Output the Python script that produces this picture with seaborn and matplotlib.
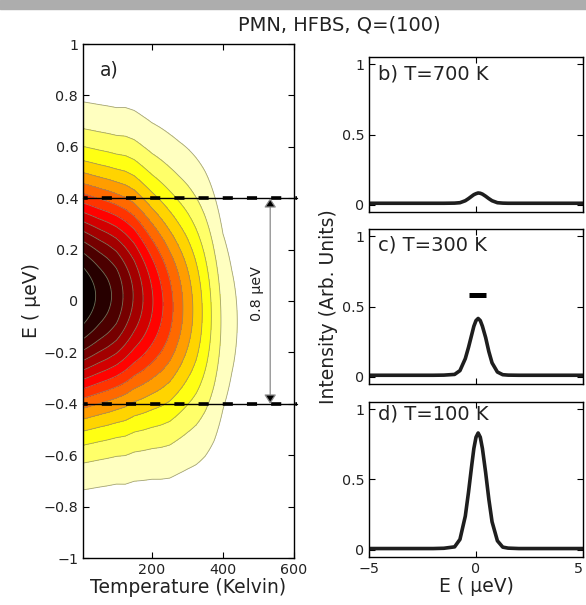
import numpy as np
import matplotlib
matplotlib.use("Agg")
import matplotlib.pyplot as plt
import seaborn as sns
from matplotlib.ticker import FuncFormatter
from matplotlib.patches import Rectangle

# ---------------- data ----------------
# panel a: intensity map parameters read per temperature
temps = [0, 25, 50, 75, 100, 125, 150, 175, 200, 225, 250, 275, 300,
         325, 350, 375, 400, 425, 450, 475, 500, 525, 550, 575, 600]
amplitude = [1.00, 0.96, 0.92, 0.885, 0.845, 0.785, 0.727, 0.667, 0.607, 0.548,
             0.49, 0.43, 0.37, 0.31, 0.245, 0.18, 0.12, 0.085, 0.055, 0.04,
             0.03, 0.025, 0.02, 0.015, 0.01]
width = [0.325, 0.325, 0.325, 0.325, 0.325, 0.33, 0.33, 0.33, 0.33, 0.333,
         0.335, 0.335, 0.337, 0.34, 0.343, 0.34, 0.315, 0.285, 0.26, 0.22,
         0.2, 0.2, 0.2, 0.2, 0.2]
center = [0.02, 0.02, 0.02, 0.02, 0.02, 0.02, 0.02, 0.01, 0.0, -0.01,
          -0.02, -0.025, -0.03, -0.04, -0.05, -0.065, -0.08, -0.08, -0.08, -0.08,
          -0.08, -0.08, -0.08, -0.08, -0.08]
window = [-0.4, 0.4]

# panels b-d: intensity vs energy
energy = [-5, -4, -3, -2, -1.5, -1, -0.75, -0.5, -0.35, -0.2, -0.1, 0, 0.1,
          0.2, 0.3, 0.45, 0.6, 0.75, 1.0, 1.25, 1.5, 2, 3, 4, 5]
int_700 = [0.012, 0.012, 0.012, 0.012, 0.012, 0.013, 0.016, 0.03, 0.045, 0.062,
           0.073, 0.08, 0.085, 0.083, 0.077, 0.062, 0.045, 0.03, 0.016, 0.013,
           0.012, 0.012, 0.012, 0.012, 0.012]
int_300 = [0.012, 0.012, 0.012, 0.012, 0.013, 0.018, 0.045, 0.13, 0.21, 0.30,
           0.36, 0.40, 0.415, 0.40, 0.36, 0.28, 0.18, 0.10, 0.035, 0.016,
           0.013, 0.012, 0.012, 0.012, 0.012]
int_100 = [0.01, 0.01, 0.01, 0.01, 0.012, 0.022, 0.075, 0.24, 0.41, 0.60,
           0.72, 0.80, 0.83, 0.80, 0.72, 0.55, 0.36, 0.20, 0.065, 0.02,
           0.013, 0.01, 0.01, 0.01, 0.01]
res_E = [-0.35, 0.45]
res_I = [0.58, 0.58]

# ---------------- style ----------------
sns.set_style("ticks")
plt.rcParams["font.family"] = ["DejaVu Sans"]
plt.rcParams["axes.linewidth"] = 1.0
plt.rcParams["xtick.direction"] = "in"
plt.rcParams["ytick.direction"] = "in"

W, H = 586, 605
fig = plt.figure(figsize=(W / 100, H / 100), dpi=100)

def rect(x0, y0, x1, y1):
    return [x0 / W, 1 - y1 / H, (x1 - x0) / W, (y1 - y0) / H]

fig.patches.append(Rectangle((0, 1 - 9 / H), 1, 9 / H, transform=fig.transFigure,
                             color="#adadad", zorder=0))
fig.text(339 / W, 1 - 25 / H, "PMN, HFBS, Q=(100)", ha="center", va="center",
         fontsize=14, color="#222222")

def minus(v, p):
    v = round(v, 6)
    if v == 0:
        v = 0.0
    return ("%g" % v).replace("-", "\u2212")

def style_ticks(ax):
    ax.tick_params(which="both", direction="in", top=True, right=True,
                   length=4, width=0.8, labelsize=10.3, colors="black",
                   labelcolor="#222222")
    for s in ax.spines.values():
        s.set_color("black")
        s.set_linewidth(1.0)

# ---------------- panel a ----------------
axa = fig.add_axes(rect(83, 44, 294, 558))
Tg = np.array(temps, dtype=float)
Eg = np.linspace(-1, 1, 401)
Z = (np.array(amplitude)[None, :] *
     np.exp(-(Eg[:, None] - np.array(center)[None, :]) ** 2 /
            (2 * np.array(width)[None, :] ** 2)))
levels = np.linspace(1 / 15, 1.0001, 15)
pos = 0.935 * np.linspace(1, 0, len(levels) - 1) ** 1.2
band_colors = [plt.cm.hot(v) for v in pos]
axa.contourf(Tg, Eg, Z, levels=levels, colors=band_colors, zorder=1)
axa.contour(Tg, Eg, Z, levels=levels[:-1], colors="#8c8c6e", linewidths=0.6,
            alpha=0.8, zorder=2)
for yv in window:
    axa.axhline(yv, xmin=0, xmax=1.014, color="black", lw=1.0, clip_on=False, zorder=4)
    axa.axhline(yv, xmin=0, xmax=1.014, color="black", lw=2.6,
                ls=(1.5, (2.8, 3.9)), clip_on=False, zorder=4)
axa.annotate("", xy=(533, window[1]), xytext=(533, window[0]),
             arrowprops=dict(arrowstyle="<|-|>,head_length=0.55,head_width=0.36",
                             fc="black", ec="#8a8a8a", lw=0.9, shrinkA=0, shrinkB=0,
                             mutation_scale=10), zorder=5)
axa.text(497, 0.03, "0.8 \u00b5eV", rotation=90, ha="center", va="center",
         fontsize=10.3, color="#222222")
axa.text(54, 0.9, "a)", ha="left", va="center", fontsize=13.5, color="#222222")
axa.set_xlim(6, 600)
axa.set_ylim(-1, 1)
axa.set_xticks([200, 400, 600])
axa.set_yticks(np.round(np.arange(-1, 1.01, 0.2), 1))
axa.yaxis.set_major_formatter(FuncFormatter(minus))
style_ticks(axa)
axa.set_xlabel("Temperature (Kelvin)", fontsize=13.5, color="#222222", labelpad=1)
axa.set_ylabel("E ( \u00b5eV)", fontsize=13.5, color="#222222", labelpad=2)

# ---------------- panels b-d ----------------
panels = [((57, 212), int_700, "b) T=700 K", 0.89),
          ((229, 384), int_300, "c) T=300 K", 0.90),
          ((402, 557), int_100, "d) T=100 K", 0.925)]
axes_r = []
for (y0, y1), yv, lab, ly in panels:
    ax = fig.add_axes(rect(369, y0, 583, y1))
    sns.lineplot(x=energy, y=yv, ax=ax, color="#1e1e1e", lw=2.6)
    ax.set_xlim(-5, 5)
    ax.set_ylim(-0.05, 1.05)
    ax.set_xticks([-5, 0, 5])
    ax.set_yticks([0, 0.5, 1])
    ax.yaxis.set_major_formatter(FuncFormatter(minus))
    ax.xaxis.set_major_formatter(FuncFormatter(minus))
    style_ticks(ax)
    ax.text(0.042, ly, lab, transform=ax.transAxes, ha="left", va="center",
            fontsize=14, color="#222222")
    ax.set_xlabel("")
    ax.set_ylabel("")
    axes_r.append(ax)

axes_r[1].plot(res_E, res_I, color="black", lw=3.6, solid_capstyle="butt")
axes_r[0].tick_params(labelbottom=False)
axes_r[1].tick_params(labelbottom=False)
axes_r[2].set_xlabel("E ( \u00b5eV)", fontsize=13.5, color="#222222", labelpad=1)
fig.canvas.draw()
xl = axes_r[2].get_xticklabels()
xl[-1].set_horizontalalignment("right")
fig.text(328 / W, 1 - 307 / H, "Intensity (Arb. Units)", rotation=90,
         ha="center", va="center", fontsize=13.5, color="#222222")

fig.savefig("out.png", dpi=100)
